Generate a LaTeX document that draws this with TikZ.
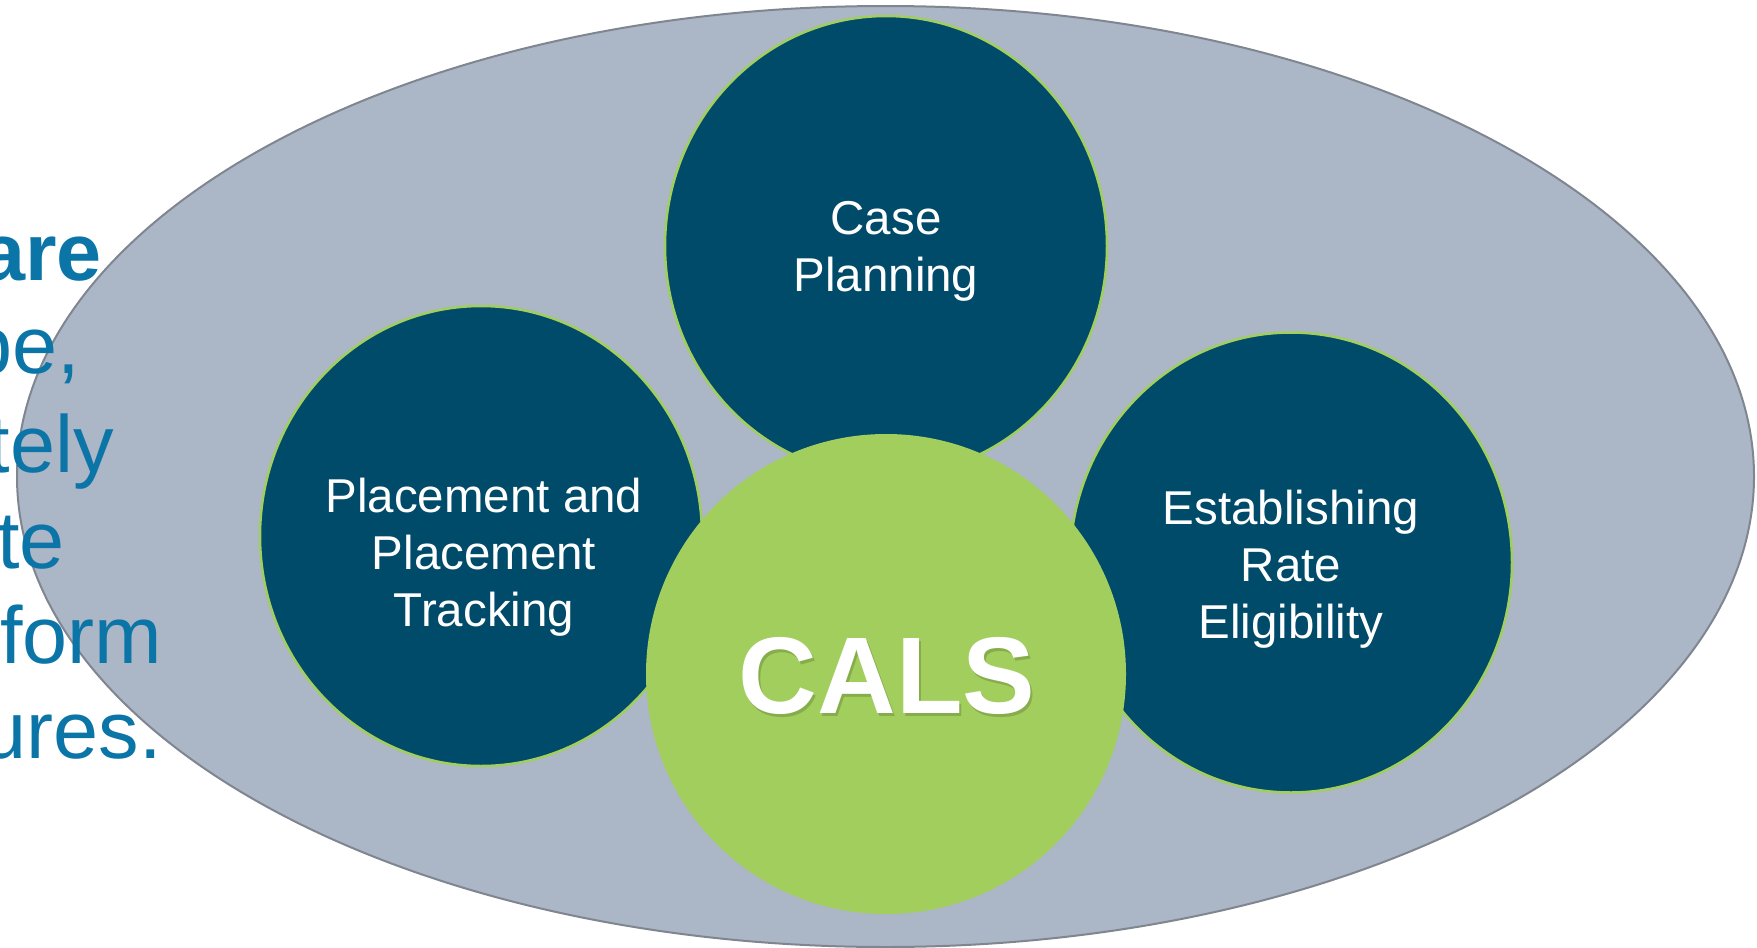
\documentclass[tikz,border=0pt]{standalone}
\usepackage{fontspec}
\setmainfont{Liberation Sans}
\usetikzlibrary{shapes.geometric}
\definecolor{halo}{RGB}{171,182,198}
\definecolor{haloline}{RGB}{127,134,144}
\definecolor{navy}{RGB}{0,74,106}
\definecolor{lime}{RGB}{162,206,94}
\definecolor{limedark}{RGB}{110,140,60}
\definecolor{inkblue}{RGB}{11,117,168}
\begin{document}
\begin{tikzpicture}
  [x=1pt,y=-1pt,every node/.style={inner sep=0pt,outer sep=0pt}]
  \tikzstyle{disc} = [ellipse,fill=navy,draw=lime,line width=2.5pt,minimum width=442pt,minimum height=460pt]
  \tikzstyle{disctext} = [text=white,align=center,font=\fontsize{47.5}{57}\selectfont]
  \tikzstyle{side} = [text=inkblue,anchor=base east,font=\fontsize{81}{96}\selectfont]
  \useasboundingbox (0,0) rectangle (1757,948);
  % outer field
  \node[ellipse,fill=halo,draw=haloline,line width=2pt,minimum width=1737pt,minimum height=941pt] (field) at (885.5,476.5) {};
  % cut-off text on the left
  \foreach \name/\x/\y/\txt in {s1/102/280/{\bfseries are},s2/80/373/{pe,},s3/114/472/{tely},
                               s4/65/568/{te},s5/162/663/{form},s6/162/758/{ures.}}
   \node[side] (\name) at (\x,\y) {\txt};
  % the three areas
  \foreach \name/\x/\y in {plan/886/246,place/481/536,rate/1291/562.5}
   \node[disc] (\name) at (\x,\y) {};
  \node[disctext] (plan-t) at (plan.center) [yshift=-5pt] {Case\\Planning};
  \node[disctext] (place-t) at (484,557.5) {Placement and\\Placement\\Tracking};
  \node[disctext] (rate-t) at (1291,569.5) {Establishing\\Rate\\Eligibility};
  % centre
  \node[circle,fill=lime,minimum size=480pt] (cals) at (886,674) {};
  \node[text=limedark,opacity=0.5,font=\fontsize{109}{130}\selectfont\bfseries] (cals-s) at (889,679) {CALS};
  \node[text=white,font=\fontsize{109}{130}\selectfont\bfseries] (cals-t) at (887,676) {CALS};
\end{tikzpicture}
\end{document}
